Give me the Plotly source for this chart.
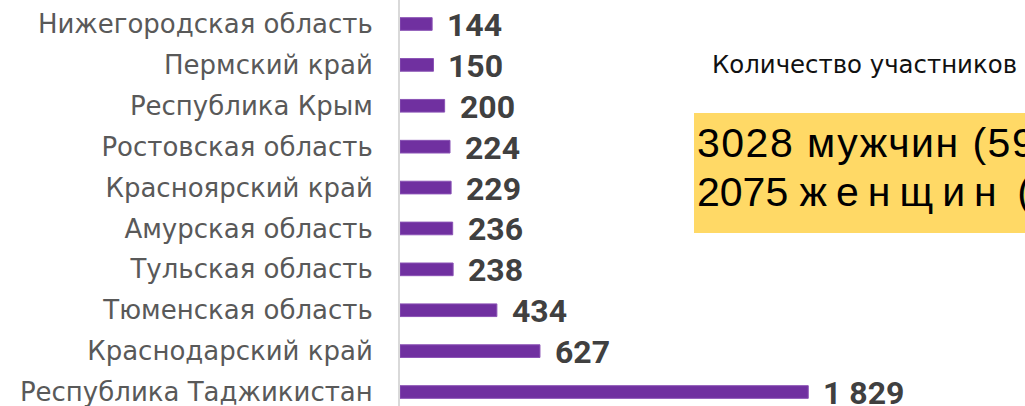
import plotly.graph_objects as go

regions = [
    "Республика Таджикистан",
    "Краснодарский край",
    "Тюменская область",
    "Тульская область",
    "Амурская область",
    "Красноярский край",
    "Ростовская область",
    "Республика Крым",
    "Пермский край",
    "Нижегородская область",
]
participants = [1829, 627, 434, 238, 236, 229, 224, 200, 150, 144]

title_text = "Количество участников"
men_text = "3028 мужчин (59,3%)"
women_num = "2075"
women_word = "женщин"
women_pct = "(40,7%)"

W, H = 1025, 406
L = 400

def px_x(p):
    return (p - L) / (W - L)

def px_y(p):
    return 1 - p / H

fig = go.Figure()
fig.add_trace(go.Bar(
    y=regions, x=participants, orientation="h",
    marker=dict(color="#7030A0", line=dict(color="#8a52b5", width=1)),
    width=0.31, hoverinfo="skip",
))

for r, v in zip(regions, participants):
    fig.add_annotation(
        x=v, y=r, xref="x", yref="y",
        text="<b>" + f"{v:,}".replace(",", " ") + "</b>",
        showarrow=False, xanchor="left", xshift=13, yshift=-1,
        font=dict(family="Roboto", size=32, color="#404040"),
    )

fig.add_annotation(
    x=px_x(710), y=px_y(64), xref="paper", yref="paper",
    text=title_text, showarrow=False, xanchor="left", yanchor="middle",
    font=dict(family="DejaVu Sans", size=24.4, color="#111111"),
)

fig.add_shape(
    type="rect", xref="paper", yref="paper",
    x0=px_x(694), x1=px_x(1040), y0=px_y(233), y1=px_y(113),
    fillcolor="#FFD966", line=dict(width=0), layer="below",
)
fig.add_annotation(
    x=px_x(695), y=px_y(143), xref="paper", yref="paper",
    text='<span style="letter-spacing:1.5px">' + men_text + "</span>",
    showarrow=False, xanchor="left", yanchor="middle",
    font=dict(family="Liberation Sans", size=41, color="#000000"),
)
fig.add_annotation(
    x=px_x(695), y=px_y(192), xref="paper", yref="paper",
    text=women_num + ' <span style="letter-spacing:9px">' + women_word + "</span> " + women_pct,
    showarrow=False, xanchor="left", yanchor="middle",
    font=dict(family="Liberation Sans", size=41, color="#000000"),
)

fig.update_layout(
    width=W, height=H,
    margin=dict(l=L, r=0, t=0, b=0),
    paper_bgcolor="white", plot_bgcolor="white",
    showlegend=False,
    xaxis=dict(range=[0, 2800], visible=False, fixedrange=True),
    yaxis=dict(
        range=[-0.342, 9.587], showline=True, linecolor="#D9D9D9", linewidth=2,
        showgrid=False, ticks="", ticklabelstandoff=20, fixedrange=True,
        tickfont=dict(family="DejaVu Sans", size=26, color="#595959"),
    ),
)

fig.write_html(
    "out.html",
    config={"displayModeBar": False},
    post_script="document.body.style.margin='0';document.body.style.overflow='hidden';",
)
